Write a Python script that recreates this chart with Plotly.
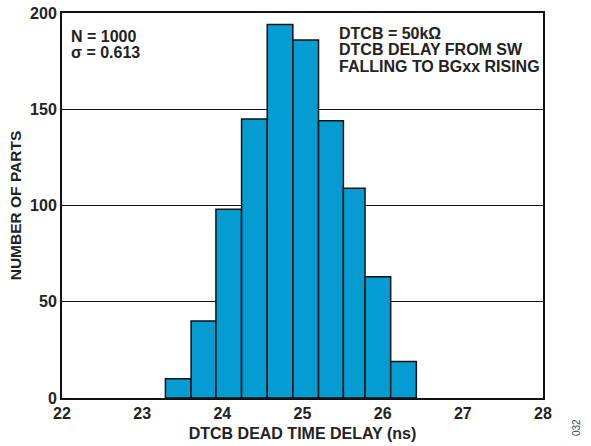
import plotly.graph_objects as go

# Histogram of DTCB dead time delay
bin_edges = [23.29, 23.61, 23.92, 24.24, 24.56, 24.88, 25.20, 25.51, 25.78, 26.10, 26.42]
counts = [10, 40, 98, 145, 194, 186, 144, 109, 63, 19]
x_ticks = [22, 23, 24, 25, 26, 27, 28]
y_ticks = [0, 50, 100, 150, 200]
stats_lines = ["N = 1000", "σ = 0.613"]
cond_lines = ["DTCB = 50kΩ", "DTCB DELAY FROM SW", "FALLING TO BGxx RISING"]

centers = [(a + b) / 2 for a, b in zip(bin_edges[:-1], bin_edges[1:])]
widths = [b - a for a, b in zip(bin_edges[:-1], bin_edges[1:])]

font_main = "Liberation Sans, Arial, sans-serif"
ink = "#222222"

# plot area in pixels
L, R, T, B = 62, 543, 13, 398
W, H = 591, 446


def px_x(x):
    return (x - L) / (R - L)


def px_y(y):
    return (B - y) / (B - T)


fig = go.Figure()
fig.add_trace(go.Bar(
    x=centers, y=counts, width=widths,
    marker=dict(color="#059CD2", line=dict(color="#111111", width=1.5)),
    hoverinfo="x+y",
))

fig.update_layout(
    width=W, height=H,
    margin=dict(l=L, r=W - R, t=T, b=H - B),
    paper_bgcolor="white", plot_bgcolor="white",
    showlegend=False,
    font=dict(family=font_main, color=ink),
    xaxis=dict(
        range=[22, 28], tickvals=x_ticks, ticktext=[f"<b>{v}</b>" for v in x_ticks],
        showgrid=False, zeroline=False, showline=True, mirror=True,
        linecolor="#111111", linewidth=2, ticks="", automargin=False,
        tickfont=dict(size=16, family=font_main, color=ink),
        title=dict(text="<b>DTCB DEAD TIME DELAY (ns)</b>", font=dict(size=16), standoff=7),
    ),
    yaxis=dict(
        range=[0, 200], tickvals=y_ticks, ticktext=[f"<b>{v}</b>" for v in y_ticks],
        showgrid=True, gridcolor="#111111", gridwidth=1.2, zeroline=False,
        showline=True, mirror=True, linecolor="#111111", linewidth=2, ticks="",
        automargin=False,
        tickfont=dict(size=16, family=font_main, color=ink),
        title=dict(text="<b>NUMBER OF PARTS</b>", font=dict(size=15.5), standoff=5),
    ),
)

# stacked text blocks with tight line spacing
for i, line in enumerate(stats_lines):
    fig.add_annotation(
        x=px_x(69), y=px_y(36 + 16.5 * i), xref="paper", yref="paper",
        xanchor="left", yanchor="middle", text=f"<b>{line}</b>", showarrow=False,
        font=dict(size=16, family=font_main, color=ink),
    )
for i, line in enumerate(cond_lines):
    fig.add_annotation(
        x=px_x(337), y=px_y(33 + 16.5 * i), xref="paper", yref="paper",
        xanchor="left", yanchor="middle", text=f"<b>{line}</b>", showarrow=False,
        font=dict(size=16, family=font_main, color=ink),
    )

fig.add_annotation(
    x=px_x(576), y=px_y(428), xref="paper", yref="paper", text="032", showarrow=False,
    xanchor="center", yanchor="middle", textangle=-90,
    font=dict(size=10, family=font_main, color="#444444"),
)

fig.write_html("out.html")
